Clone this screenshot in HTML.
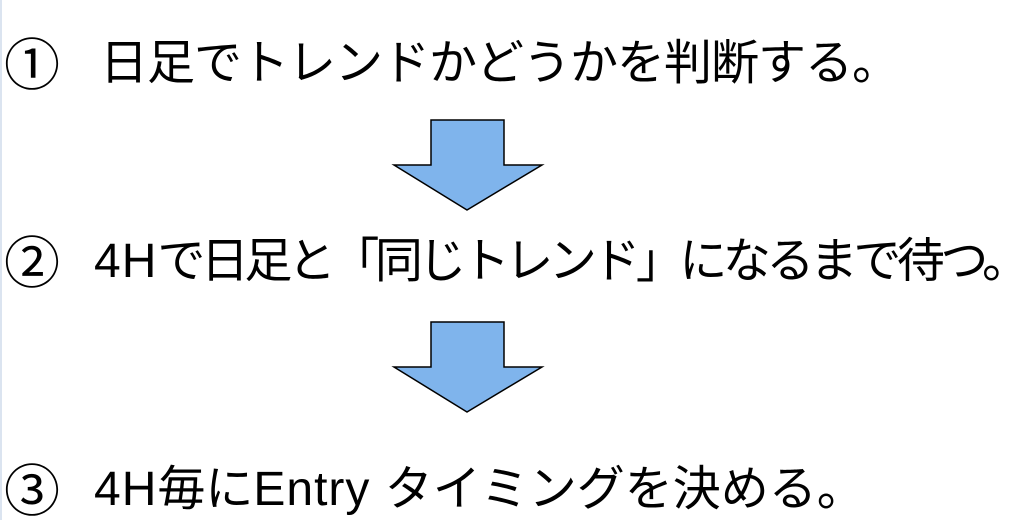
<!DOCTYPE html>
<html><head><meta charset="utf-8"><style>
body{margin:0;width:1024px;height:520px;background:#fff;position:relative;overflow:hidden;font-family:"Liberation Sans","Noto Sans CJK JP",sans-serif;color:#000}
.l{position:absolute;left:0;height:60px;line-height:60px;font-size:48px;white-space:nowrap}
.n{position:absolute;left:4px;font-size:56px;font-family:"Noto Sans CJK JP",sans-serif;top:-2px}
.t{position:absolute}
.edge{position:absolute;left:0;top:0;width:2px;height:520px;background:#dbe4f0}
.a{letter-spacing:1px}
</style></head><body>
<div class="edge"></div>
<div class="l" style="top:34px"><span class="n">①</span><span class="t" style="left:100px;letter-spacing:-1px">日足でトレンドかどうかを判断する。</span></div>
<div class="l" style="top:232px"><span class="n">②</span><span class="t" style="left:94px;letter-spacing:-4.5px"><span class="a">4H</span>で日足と「同じトレンド」になるまで待つ。</span></div>
<div class="l" style="top:460px"><span class="n">③</span><span class="t" style="left:94px;letter-spacing:0px"><span class="a">4H</span>毎に<span class="a">Entry </span>タイミングを決める。</span></div>
<svg width="1024" height="520" style="position:absolute;left:0;top:0">
<polygon points="431,120 504,120 504,165 542,165 467,210 394,165 431,165" fill="#7fb4ec" stroke="#000" stroke-width="1.5"/>
<polygon points="431,322 504,322 504,367 542,367 467,412 394,367 431,367" fill="#7fb4ec" stroke="#000" stroke-width="1.5"/>
</svg>
</body></html>
